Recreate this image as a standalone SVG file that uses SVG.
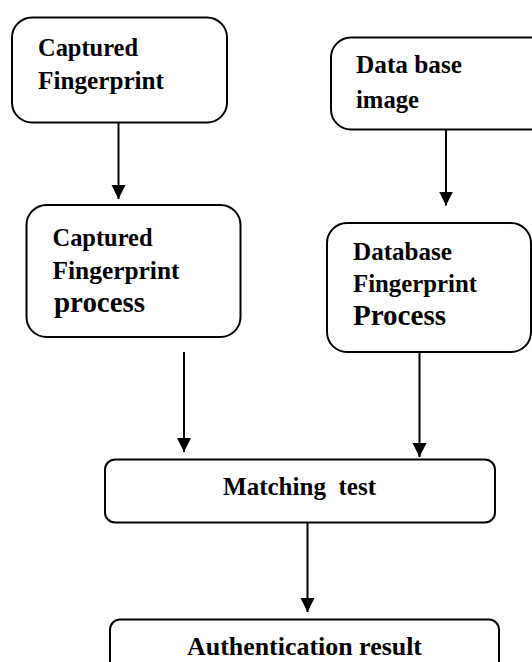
<svg xmlns="http://www.w3.org/2000/svg" width="532" height="662" viewBox="0 0 532 662">
  <style>
    .box { fill: #ffffff; stroke: #000000; stroke-width: 2; }
    .lbl { font-family: "Liberation Serif", "Times New Roman", serif; font-weight: bold; font-size: 25px; fill: #000000; }
    .big { font-size: 29px; }
    .mid { text-anchor: middle; }
    .conn { stroke: #000000; stroke-width: 2; fill: none; marker-end: url(#head); }
  </style>
  <defs>
    <marker id="head" markerUnits="userSpaceOnUse" markerWidth="16" markerHeight="16" refX="14" refY="7" orient="auto">
      <path d="M0,0 L14,7 L0,14 Z" fill="#000000"/>
    </marker>
  </defs>
  <rect x="0" y="0" width="532" height="662" fill="#ffffff"/>

  <g id="captured">
    <rect class="box" x="12" y="17.5" width="215" height="105" rx="20"/>
    <text class="lbl" x="38" y="56" textLength="100" lengthAdjust="spacingAndGlyphs">Captured</text>
    <text class="lbl" x="38" y="88.5" textLength="126" lengthAdjust="spacingAndGlyphs">Fingerprint</text>
  </g>

  <g id="dbimage">
    <rect class="box" x="331" y="37.5" width="230" height="92" rx="20"/>
    <text class="lbl" x="356" y="73" textLength="106" lengthAdjust="spacingAndGlyphs">Data base</text>
    <text class="lbl" x="356" y="108" textLength="63" lengthAdjust="spacingAndGlyphs">image</text>
  </g>

  <g id="capturedproc">
    <rect class="box" x="26.5" y="205" width="214" height="132" rx="20"/>
    <text class="lbl" x="52.5" y="246" textLength="100" lengthAdjust="spacingAndGlyphs">Captured</text>
    <text class="lbl" x="52.5" y="279" textLength="127" lengthAdjust="spacingAndGlyphs">Fingerprint</text>
    <text class="lbl big" x="54" y="312" textLength="91" lengthAdjust="spacingAndGlyphs">process</text>
  </g>

  <g id="dbproc">
    <rect class="box" x="327" y="223" width="204" height="129" rx="20"/>
    <text class="lbl" x="353" y="260" textLength="99" lengthAdjust="spacingAndGlyphs">Database</text>
    <text class="lbl" x="353" y="292" textLength="124" lengthAdjust="spacingAndGlyphs">Fingerprint</text>
    <text class="lbl big" x="353" y="325" textLength="93" lengthAdjust="spacingAndGlyphs">Process</text>
  </g>

  <g id="matching">
    <rect class="box" x="105" y="459.5" width="390" height="63" rx="10"/>
    <text class="lbl mid" x="299.5" y="495" textLength="153" lengthAdjust="spacingAndGlyphs" xml:space="preserve">Matching  test</text>
  </g>

  <g id="result">
    <rect class="box" x="110" y="619.5" width="389" height="60" rx="10"/>
    <text class="lbl mid" x="304.5" y="655" textLength="235" lengthAdjust="spacingAndGlyphs">Authentication result</text>
  </g>

  <g id="connectors">
    <line class="conn" x1="118.5" y1="123" x2="118.5" y2="199"/>
    <line class="conn" x1="446" y1="130" x2="446" y2="205.5"/>
    <line class="conn" x1="184" y1="352" x2="184" y2="452"/>
    <line class="conn" x1="419.5" y1="352" x2="419.5" y2="457"/>
    <line class="conn" x1="307.5" y1="523" x2="307.5" y2="612"/>
  </g>
</svg>
